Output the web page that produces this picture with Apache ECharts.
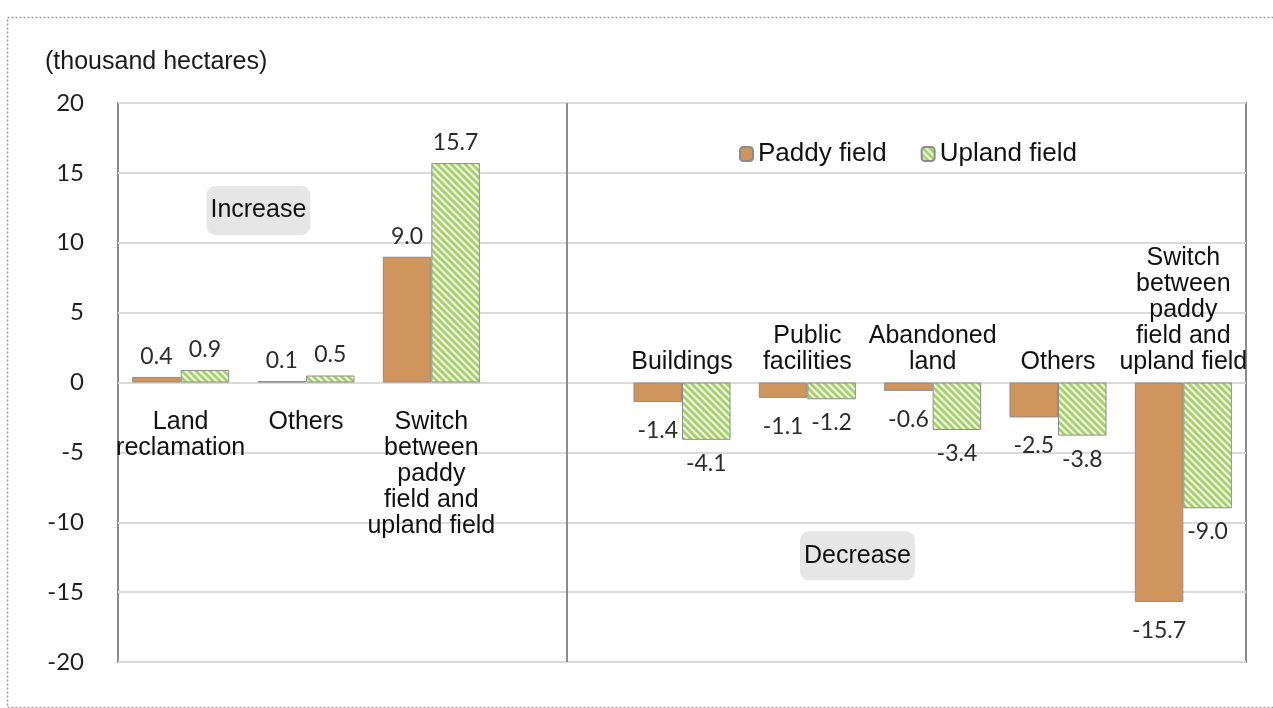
<!DOCTYPE html>
<html>
<head>
<meta charset="utf-8">
<script src="https://cdn.jsdelivr.net/npm/echarts@6/dist/echarts.min.js"></script>
<style>html,body{margin:0;padding:0;background:#fff;}#c{width:1273px;height:708px;}</style>
</head>
<body>
<div id="c"></div>
<script>
// ---- data ----
var categories = ['Land\nreclamation', 'Others', 'Switch\nbetween\npaddy\nfield and\nupland field', '',
  'Buildings', 'Public\nfacilities', 'Abandoned\nland', 'Others', 'Switch\nbetween\npaddy\nfield and\nupland field'];
var paddyField = [0.4, 0.1, 9.0, null, -1.4, -1.1, -0.6, -2.5, -15.7];
var uplandField = [0.9, 0.5, 15.7, null, -4.1, -1.2, -3.4, -3.8, -9.0];
var seriesNames = ['Paddy field', 'Upland field'];
var yTicks = [-20, -15, -10, -5, 0, 5, 10, 15, 20];
var annotations = [['Increase', 1.12, 12.3], ['Decrease', 5.9, -12.4]];
var dividerPos = 3.575;
var unitLabel = '(thousand hectares)';
var increaseCount = 3;

// stripe pattern for upland field
function stripes() {
  var s = 7;
  var c = document.createElement('canvas');
  c.width = s; c.height = s;
  var g = c.getContext('2d');
  g.fillStyle = '#f3f9e6';
  g.fillRect(0, 0, s, s);
  g.strokeStyle = '#a6d16a';
  g.lineWidth = 2.8;
  for (var k = -1; k <= 1; k++) {
    g.beginPath();
    g.moveTo(k * s - 1, -1);
    g.lineTo(k * s + s + 1, s + 1);
    g.stroke();
  }
  return c;
}

function items(arr, near) {
  return arr.map(function (v) {
    if (v === null) return { value: null };
    return {
      value: v,
      label: { position: v < 0 ? 'bottom' : 'top', distance: v < 0 ? near : 9 }
    };
  });
}

var chart = echarts.init(document.getElementById('c'), null, { renderer: 'canvas' });
var labelFont = { fontFamily: 'Lato', fontSize: 23, color: '#2b2b2b' };
var hiddenLine = { show: false, onZero: false };

chart.setOption({
  animation: false,
  backgroundColor: '#fff',
  title: {
    text: unitLabel, left: 40, top: 45,
    textStyle: { fontFamily: 'Liberation Sans', fontSize: 25, fontWeight: 'normal', color: '#1a1a1a' }
  },
  graphic: [{
    type: 'rect', left: 5, top: 15, silent: true,
    shape: { width: 1300, height: 690 },
    style: { fill: null, stroke: '#9a9a9a', lineWidth: 1.5, lineDash: [2, 2] }
  }],
  legend: {
    data: seriesNames, left: 734, top: 136, itemWidth: 13, itemHeight: 14, itemGap: 34,
    textStyle: { fontFamily: 'Liberation Sans', fontSize: 26, color: '#111111' }
  },
  grid: {
    left: 118, right: 27, top: 103, bottom: 46, show: true, borderColor: '#8c8c8c', borderWidth: 2,
    containLabel: false, outerBoundsMode: 'none'
  },
  xAxis: [{
    type: 'category', data: categories, position: 'bottom',
    axisLine: hiddenLine, axisTick: { show: false },
    axisLabel: {
      interval: 0, margin: 27, fontFamily: 'Liberation Sans', fontSize: 25, lineHeight: 26, color: '#111111',
      formatter: function (v, i) { return i < increaseCount ? v : ''; }
    }
  }, {
    type: 'category', data: categories, position: 'bottom',
    axisLine: hiddenLine, axisTick: { show: false },
    axisLabel: {
      interval: 0, inside: true, margin: 7, fontFamily: 'Liberation Sans', fontSize: 25, lineHeight: 26, color: '#111111',
      formatter: function (v, i) { return i > increaseCount ? v : ''; }
    }
  }, {
    type: 'value', min: 0, max: categories.length, show: false
  }],
  yAxis: {
    type: 'value', min: yTicks[0], max: yTicks[yTicks.length - 1], interval: 5,
    axisLine: { show: false }, axisTick: { show: false },
    splitLine: { lineStyle: { color: '#dadada', width: 2 } },
    axisLabel: { margin: 34, fontFamily: 'Lato', fontSize: 24, color: '#1f1f1f' }
  },
  series: [{
    name: seriesNames[0], type: 'bar', xAxisIndex: 0, barGap: '0%', barCategoryGap: '22.6%',
    data: items(paddyField, 17),
    itemStyle: { color: '#d0955d', borderColor: '#8c8c8c', borderWidth: 1 },
    label: Object.assign({ show: true, formatter: function (p) { return p.value.toFixed(1); } }, labelFont)
  }, {
    name: seriesNames[1], type: 'bar', xAxisIndex: 0, barGap: '0%', barCategoryGap: '22.6%',
    data: items(uplandField, 12),
    itemStyle: { color: { image: stripes(), repeat: 'repeat' }, borderColor: '#8c8c8c', borderWidth: 1 },
    label: Object.assign({ show: true, formatter: function (p) { return p.value.toFixed(1); } }, labelFont)
  }, {
    type: 'scatter', xAxisIndex: 2, symbolSize: 0, silent: true,
    itemStyle: { opacity: 1 },
    data: annotations.map(function (a) { return { value: [a[1], a[2]], name: a[0] }; }),
    label: {
      show: true, position: 'inside', formatter: '{b}',
      fontFamily: 'Liberation Sans', fontSize: 25, color: '#111111',
      backgroundColor: '#e6e6e6', borderRadius: 9, padding: [12, 4]
    },
    markLine: {
      silent: true, symbol: 'none', label: { show: false },
      lineStyle: { color: '#8c8c8c', width: 2, type: 'solid', opacity: 1 },
      data: [{ xAxis: dividerPos }]
    }
  }]
});

// move both category axes to the zero line of the value axis (through the library's scale)
var zeroY = chart.convertToPixel({ yAxisIndex: 0 }, 0);
var bottomY = chart.convertToPixel({ yAxisIndex: 0 }, yTicks[0]);
var off = zeroY - bottomY;
chart.setOption({ xAxis: [{ offset: off }, { offset: off }, {}] });
</script>
</body>
</html>
